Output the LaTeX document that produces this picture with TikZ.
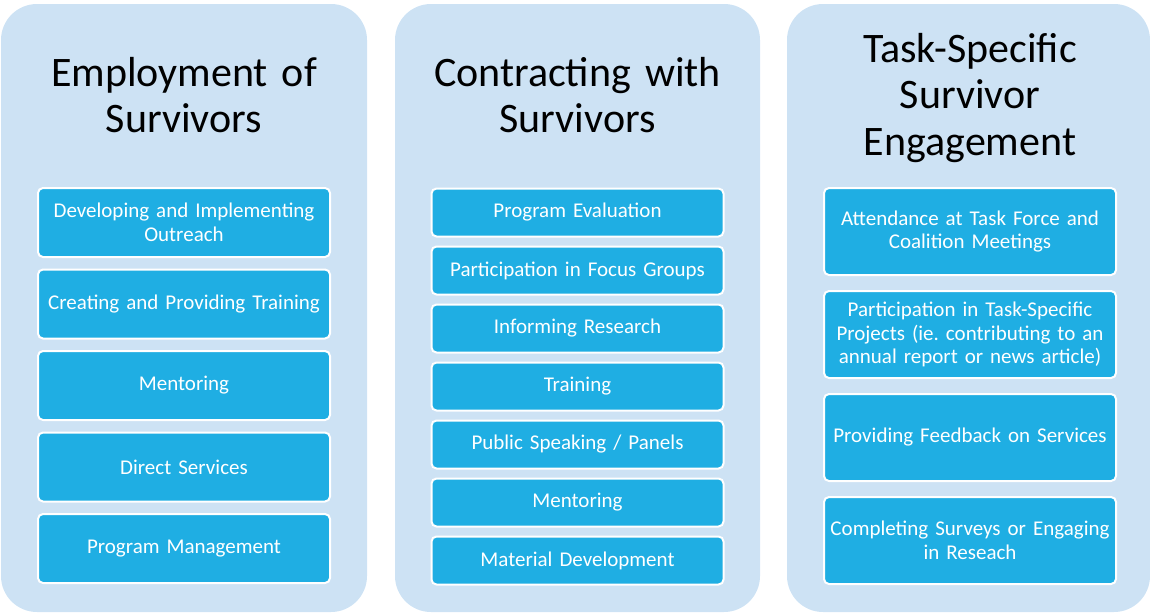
\documentclass[tikz,border=0pt]{standalone}
\usepackage{fontspec}
\setmainfont{Carlito}
\usetikzlibrary{positioning}
\frenchspacing
\definecolor{panelblue}{RGB}{205,226,244}
\definecolor{itemblue}{RGB}{31,174,227}
\tikzstyle{panel} = [rectangle, rounded corners=36pt, minimum height=608pt, fill=panelblue, inner sep=0pt]
\tikzstyle{heading} = [text width=350pt, align=center, font=\fontsize{42}{46.5}\selectfont]
\tikzstyle{item} = [rectangle, rounded corners=5pt, minimum width=292pt, text width=290pt, align=center, draw=white, line width=2pt, fill=itemblue, text=white, inner sep=0pt, font=\fontsize{21}{23.5}\selectfont]

\begin{document}
\begin{tikzpicture}[x=1pt, y=1pt]
\useasboundingbox (0,0) rectangle (1150,-613);
% Column 1
\node (employ) [panel, minimum width=366pt] at (184,-308) {};
\node (employTitle) [heading] at (184,-95) {Employment of\\Survivors};
\node (outreach) [item, minimum height=69pt] at (184,-222.5) {Developing and Implementing\\Outreach};
\node (training1) [item, minimum height=69pt, below=10.5pt of outreach] {Creating and Providing Training};
\node (mentor1) [item, minimum height=69pt, below=10.5pt of training1] {Mentoring};
\node (direct) [item, minimum height=69pt, below=10.5pt of mentor1] {Direct Services};
\node (manage) [item, minimum height=69pt, below=10.5pt of direct] {Program Management};
% Column 2
\node (contract) [panel, minimum width=365pt] at (577.5,-308) {};
\node (contractTitle) [heading] at (577.5,-95) {Contracting with\\Survivors};
\node (evaluate) [item, minimum height=48pt] at (577.5,-212.5) {Program Evaluation};
\node (focus) [item, minimum height=48pt, below=8pt of evaluate] {Participation in Focus Groups};
\node (research) [item, minimum height=48pt, below=8pt of focus] {Informing Research};
\node (training2) [item, minimum height=48pt, below=8pt of research] {Training};
\node (speak) [item, minimum height=48pt, below=8pt of training2] {Public Speaking / Panels};
\node (mentor2) [item, minimum height=48pt, below=8pt of speak] {Mentoring};
\node (material) [item, minimum height=48pt, below=8pt of mentor2] {Material Development};
% Column 3
\node (task) [panel, minimum width=363pt] at (968.5,-308) {};
\node (taskTitle) [heading] at (970,-98) {Task-Specific\\Survivor\\Engagement};
\node (attend) [item, minimum height=87pt] at (970,-231.5) {Attendance at Task Force and\\Coalition Meetings};
\node (projects) [item, minimum height=87pt, below=14pt of attend] {Participation in Task-Specific\\Projects (ie. contributing to an\\annual report or news article)};
\node (feedback) [item, minimum height=87pt, below=14pt of projects] {Providing Feedback on Services};
\node (surveys) [item, minimum height=87pt, below=14pt of feedback] {Completing Surveys or Engaging\\in Reseach};
\end{tikzpicture}
\end{document}
